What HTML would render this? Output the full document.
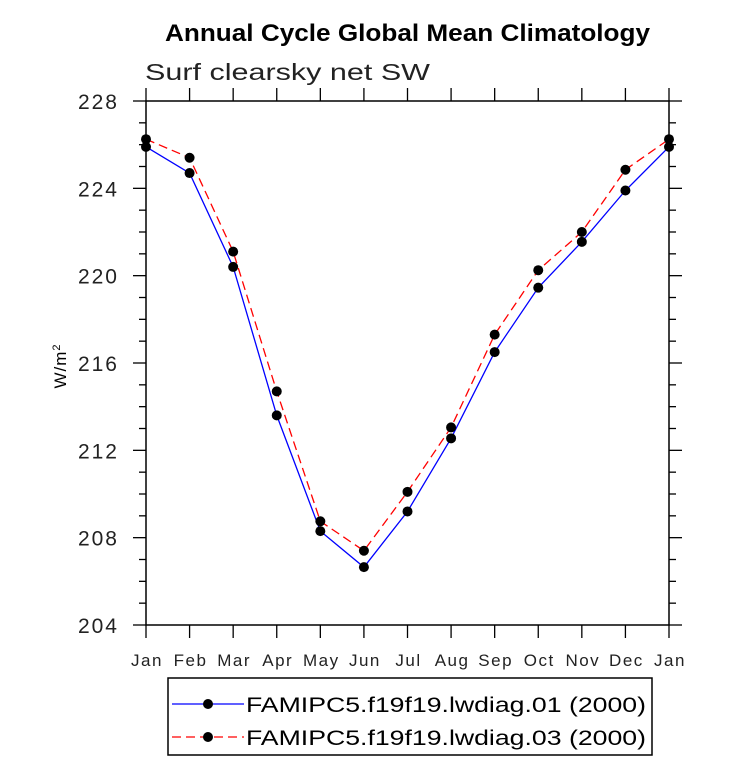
<!DOCTYPE html>
<html><head><meta charset="utf-8"><style>body{margin:0;background:#fff}svg{display:block}</style></head>
<body>
<svg id="chart" width="733" height="777" xmlns="http://www.w3.org/2000/svg" font-family="Liberation Sans, sans-serif">
<text x="165" y="41" font-size="24" font-weight="bold" textLength="485" lengthAdjust="spacingAndGlyphs">Annual Cycle Global Mean Climatology</text>
<text x="145" y="80" font-size="23" fill="#222" textLength="285" lengthAdjust="spacingAndGlyphs">Surf clearsky net SW</text>
<text transform="translate(66,366) rotate(-90)" text-anchor="middle" font-size="17" letter-spacing="1">W/m<tspan dy="-6" font-size="11">2</tspan></text>
<g id="axes"></g>
<g id="series"></g>
<g>
<rect x="168" y="678" width="484" height="77" fill="#fff" stroke="#000" stroke-width="1.5"/>
<line x1="172" y1="704" x2="244" y2="704" stroke="#00f" stroke-width="1.3"/>
<circle cx="208" cy="704" r="5"/>
<text x="246" y="712" font-size="21" textLength="400" lengthAdjust="spacingAndGlyphs">FAMIPC5.f19f19.lwdiag.01 (2000)</text>
<line x1="172" y1="737" x2="244" y2="737" stroke="#f00" stroke-width="1.3" stroke-dasharray="9,5"/>
<circle cx="208" cy="737" r="5"/>
<text x="246" y="745" font-size="21" textLength="400" lengthAdjust="spacingAndGlyphs">FAMIPC5.f19f19.lwdiag.03 (2000)</text>
</g>
</svg>
<script>
const months=["Jan","Feb","Mar","Apr","May","Jun","Jul","Aug","Sep","Oct","Nov","Dec","Jan"];
const yTicks=[204,208,212,216,220,224,228];
const series01=[225.9,224.7,220.4,213.6,208.3,206.65,209.2,212.55,216.5,219.45,221.55,223.9,225.9];
const series03=[226.25,225.4,221.1,214.7,208.75,207.4,210.1,213.05,217.3,220.25,222.0,224.85,226.25];
const X0=146,X1=669,Y0=625,Y1=101,YMIN=204,YMAX=228;
const NS="http://www.w3.org/2000/svg";
const xs=i=>X0+(X1-X0)*i/(months.length-1);
const ys=v=>Y0-(v-YMIN)/(YMAX-YMIN)*(Y0-Y1);
const axes=document.getElementById('axes'),ser=document.getElementById('series');
function mk(tag,at,p){const e=document.createElementNS(NS,tag);for(const k in at)e.setAttribute(k,at[k]);p.appendChild(e);return e;}
const frame=mk('rect',{x:X0,y:Y1,width:X1-X0,height:Y0-Y1,fill:'none',stroke:'#000','stroke-width':1.5},axes);


for(let v=YMIN;v<=YMAX;v+=1){const major=(v%4===0);const L=major?13:7;const y=ys(v);
mk('line',{x1:X0-L,y1:y,x2:X0,y2:y,stroke:'#000','stroke-width':1.3},axes);
mk('line',{x1:X1,y1:y,x2:X1+L,y2:y,stroke:'#000','stroke-width':1.3},axes);}
yTicks.forEach(v=>{const t=mk('text',{x:X0-27,y:ys(v)+8,'text-anchor':'end','font-size':21,fill:'#222','letter-spacing':'2'},axes);t.textContent=v;

});
months.forEach((m,i)=>{const x=xs(i);
mk('line',{x1:x,y1:Y0,x2:x,y2:Y0+13,stroke:'#000','stroke-width':1.3},axes);
mk('line',{x1:x,y1:Y1-13,x2:x,y2:Y1,stroke:'#000','stroke-width':1.3},axes);
const t=mk('text',{x:x+1,y:Y0+41,'text-anchor':'middle','font-size':17,fill:'#222','letter-spacing':'1.5'},axes);t.textContent=m;

});
function draw(vals,color,dash,name){
const pl=mk('polyline',{points:vals.map((v,i)=>xs(i)+','+ys(v)).join(' '),fill:'none',stroke:color,'stroke-width':1.3,'stroke-dasharray':dash},ser);


vals.forEach((v,i)=>{const c=mk('circle',{cx:xs(i),cy:ys(v),r:5,fill:'#000'},ser);

});}
draw(series01,'#00f','none','series-01');
draw(series03,'#f00','9,5','series-03');
</script>
</body></html>
